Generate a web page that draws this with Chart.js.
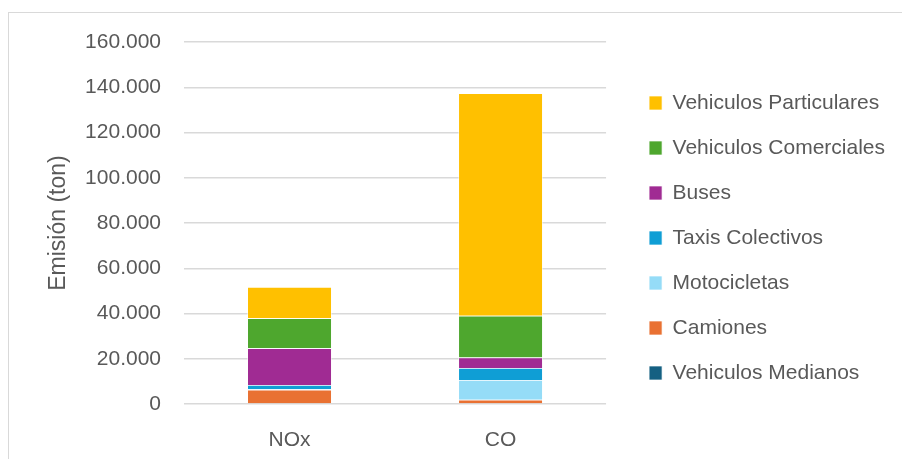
<!DOCTYPE html>
<html>
<head>
<meta charset="utf-8">
<script src="https://cdn.jsdelivr.net/npm/chart.js@4.4.0/dist/chart.umd.min.js"></script>
<style>
  body { margin: 0; background: #fff; }
  #wrap { position: relative; width: 902px; height: 459px; overflow: hidden; }
  #frame { position: absolute; left: 8px; top: 12px; width: 900px; height: 460px; border: 1px solid #d9d9d9; pointer-events: none; }
  canvas { position: absolute; left: 0; top: 0; }
</style>
</head>
<body>
<div id="wrap">
  <div id="frame"></div>
  <canvas id="emisionesChart" width="902" height="459"></canvas>
</div>
<script>
// Emisiones por tipo de vehiculo (ton), barras apiladas
const contaminantes = ['NOx', 'CO'];
const tipos = ['Vehiculos Medianos', 'Camiones', 'Motocicletas', 'Taxis Colectivos', 'Buses', 'Vehiculos Comerciales', 'Vehiculos Particulares'];
const medianos = [300, 300];
const camiones = [6000, 1600];
const motocicletas = [300, 8700];
const taxisColectivos = [1800, 5300];
const buses = [16200, 4600];
const comerciales = [13300, 18500];
const particulares = [13800, 98300];
const colores = ['#156082', '#E97132', '#95DCF7', '#0F9ED5', '#A02B93', '#4EA72E', '#FFC000'];

const series = [medianos, camiones, motocicletas, taxisColectivos, buses, comerciales, particulares];
const fuente = 'Liberation Sans, Arial, sans-serif';
const gris = '#595959';

function miles(v) {
    return String(v).replace(/\B(?=(\d{3})+(?!\d))/g, '.');
}

document.addEventListener('DOMContentLoaded', function () {
    const ctx = document.getElementById('emisionesChart').getContext('2d');
    new Chart(ctx, {
        type: 'bar',
        data: {
            labels: contaminantes,
            datasets: tipos.map((t, i) => ({
                label: t,
                data: series[i],
                backgroundColor: colores[i],
                borderColor: '#ffffff',
                borderWidth: 0.7,
                barPercentage: 0.4,
                categoryPercentage: 1
            }))
        },
        options: {
            responsive: false,
            animation: false,
            devicePixelRatio: 1,
            layout: { padding: { top: 17, right: 7, bottom: 0, left: 0 } },
            plugins: {
                tooltip: { enabled: false },
                legend: {
                    position: 'right',
                    reverse: true,
                    maxWidth: 320,
                    labels: {
                        color: gris,
                        font: { family: fuente, size: 21 },
                        boxWidth: 13,
                        boxHeight: 14,
                        padding: 24
                    }
                }
            },
            scales: {
                x: {
                    stacked: true,
                    grid: { display: false },
                    border: { display: false },
                    ticks: { color: gris, font: { family: fuente, size: 21 }, padding: 16 },
                    afterFit: s => { s.height = 55; }
                },
                xTop: {
                    type: 'linear',
                    position: 'top',
                    display: true,
                    grid: { display: false },
                    border: { display: false },
                    ticks: { display: false },
                    afterFit: s => { s.height = 25; }
                },
                y: {
                    stacked: true,
                    min: 0,
                    max: 160000,
                    border: { display: false },
                    grid: { color: '#d9d9d9', lineWidth: 1.5, drawTicks: false },
                    ticks: {
                        stepSize: 20000,
                        color: gris,
                        font: { family: fuente, size: 21 },
                        padding: 23,
                        callback: v => miles(v)
                    },
                    title: {
                        display: true,
                        text: 'Emisión (ton)',
                        color: gris,
                        font: { family: fuente, size: 23 },
                        padding: { top: 44.7, bottom: 0 }
                    },
                    afterFit: s => { s.width = 184; }
                },
                yGap: {
                    type: 'linear',
                    position: 'right',
                    display: true,
                    grid: { display: false },
                    border: { display: false },
                    ticks: { display: false },
                    afterFit: s => { s.width = 19; }
                }
            }
        }
    });
});
</script>
</body>
</html>
